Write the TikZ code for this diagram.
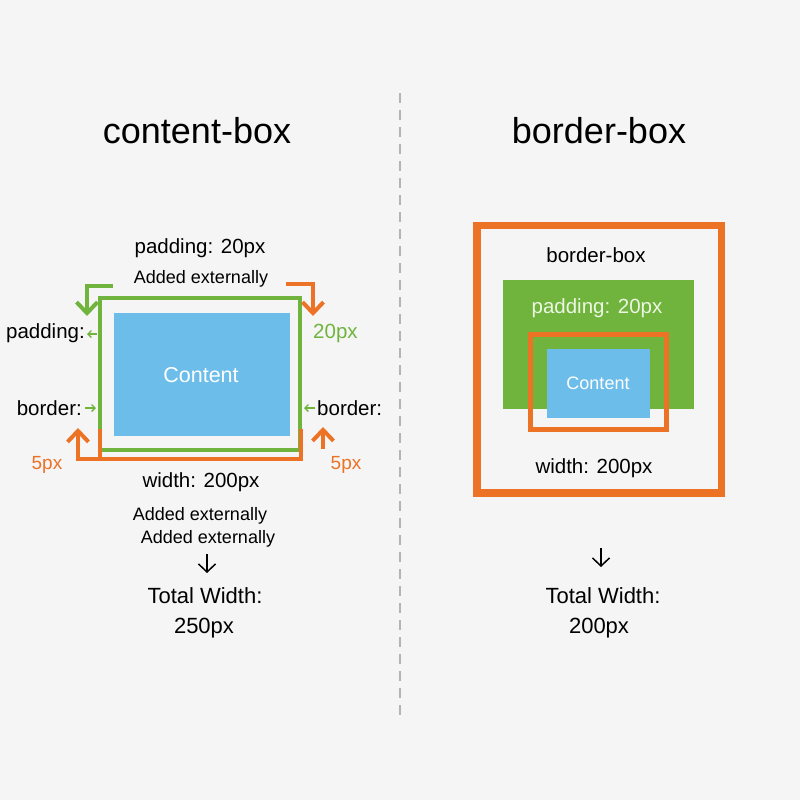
\documentclass[tikz,border=0pt]{standalone}
\usepackage{fontspec}
\setmainfont{Liberation Sans}
\usetikzlibrary{arrows.meta,positioning,calc}

\definecolor{boxgreen}{RGB}{112,180,62}
\definecolor{boxorange}{RGB}{236,114,38}
\definecolor{boxblue}{RGB}{108,189,234}
\definecolor{bggray}{RGB}{245,245,245}
\definecolor{divgray}{RGB}{180,180,180}
\definecolor{palegreen}{RGB}{236,246,226}

\begin{document}
\begin{tikzpicture}[
        % pixel grid, y runs downwards
        x=1pt, y=-1pt,
        title/.style={font=\fontsize{36}{40}\selectfont, inner sep=0pt, anchor=base},
        label/.style={font=\fontsize{20.5}{24}\selectfont, inner sep=0pt, anchor=base},
        note/.style={font=\fontsize{18}{22}\selectfont, inner sep=0pt, anchor=base},
        big arrow/.style={line width=4pt, -{Straight Barb[length=11pt,width=21pt]}},
        tiny arrow/.style={boxgreen, line width=1.3pt, -{Straight Barb[length=3.5pt,width=7pt]}},
        down arrow/.style={line width=1.5pt, -{Straight Barb[length=8pt,width=17pt]}},
        divider/.style={divgray, line width=2pt, dash pattern=on 10pt off 7pt}
     ]
    % canvas
    \fill[bggray] (0,0) rectangle (800,800);
    \useasboundingbox (0,0) rectangle (800,800);

    % divider between the two models
    \coordinate (div_top) at (400,93);
    \coordinate (div_bot) at (400,720);
    \draw[divider] (div_top) -- (div_bot);

    % titles
    \node[title] (cb_title) at (197,143) {content-box};
    \node[title] (bb_title) at (599,143) {border-box};

    %%%% content-box side
    \draw[boxgreen, line width=4.5pt] (100,298) rectangle (300,450);
    \fill[boxblue] (114,313) rectangle (290,436);
    \node[label, white, font=\fontsize{21.5}{24}\selectfont] (cb_content) at (201,382) {Content};

    % orange border bracket under the box
    \draw[boxorange, line width=4pt] (100,429) -- (100,459);
    \draw[boxorange, big arrow, line join=miter] (301,429) -- (301,459) -- (78,459) -- (78,428);
    \draw[boxorange, big arrow] (323,449) -- (323,427);

    % corner arrows
    \draw[boxgreen, big arrow] (113,286) -- (87,286) -- (87,316);
    \draw[boxorange, big arrow] (286,284) -- (313,284) -- (313,316);

    \node[label] (cb_pad) at (200,253) {padding: 20px};
    \node[note] (cb_ext) at (201,283) {Added externally};

    \node[label, anchor=base east] (cb_padl) at (85,338) {padding:};
    \node[label, anchor=base west, boxgreen] (cb_20) at (313,338) {20px};
    \coordinate (padl_a) at (97,334);
    \coordinate (padl_b) at (87,334);
    \draw[tiny arrow] (padl_a) -- (padl_b);

    \node[label, anchor=base east] (cb_bordl) at (82,415) {border:};
    \node[label, anchor=base west] (cb_bordr) at (317,415) {border:};
    \coordinate (bl_a) at (85,408);
    \coordinate (bl_b) at (96,408);
    \coordinate (br_a) at (315,408);
    \coordinate (br_b) at (304,408);
    \draw[tiny arrow] (bl_a) -- (bl_b);
    \draw[tiny arrow] (br_a) -- (br_b);

    \node[label, boxorange, font=\fontsize{19}{22}\selectfont] (cb_5l) at (47,469) {5px};
    \node[label, boxorange, font=\fontsize{19}{22}\selectfont] (cb_5r) at (346,469) {5px};

    \node[label] (cb_width) at (201,487) {width: 200px};
    \node[note] (cb_ext1) at (200,520) {Added externally};
    \node[note] (cb_ext2) at (208,543) {Added externally};
    \coordinate (cb_dn_a) at (207,554);
    \coordinate (cb_dn_b) at (207,573);
    \draw[down arrow] (cb_dn_a) -- (cb_dn_b);
    \node[label, font=\fontsize{22}{26}\selectfont] (cb_total) at (205,603) {Total Width:};
    \node[label, font=\fontsize{22}{26}\selectfont] (cb_sum) at (204,633) {250px};

    %%%% border-box side
    \draw[boxorange, line width=7.5pt] (477,225.5) rectangle (721.5,493);
    \node[label] (bb_label) at (596,262) {border-box};
    \fill[boxgreen] (503,280) rectangle (694,409);
    \node[label, palegreen] (bb_pad) at (597,313) {padding: 20px};
    \draw[boxorange, line width=5pt] (530.5,334.5) rectangle (666,429.5);
    \fill[boxblue] (547,349) rectangle (650,418);
    \node[note, white] (bb_content) at (598,389) {Content};
    \node[label] (bb_width) at (594,473) {width: 200px};

    \coordinate (bb_dn_a) at (601,548);
    \coordinate (bb_dn_b) at (601,567);
    \draw[down arrow] (bb_dn_a) -- (bb_dn_b);
    \node[label, font=\fontsize{22}{26}\selectfont] (bb_total) at (603,603) {Total Width:};
    \node[label, font=\fontsize{22}{26}\selectfont] (bb_sum) at (599,633) {200px};
\end{tikzpicture}
\end{document}
